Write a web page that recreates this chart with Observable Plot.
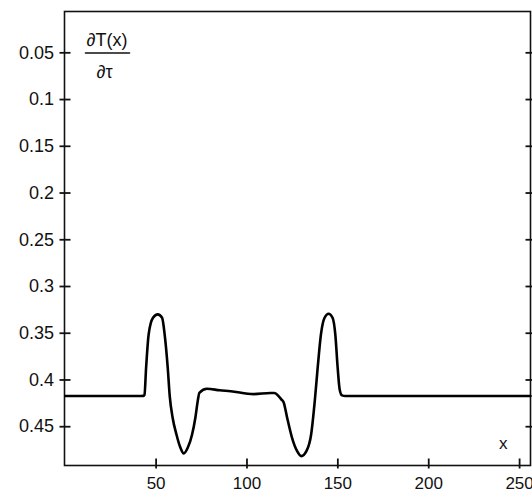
<!DOCTYPE html>
<html>
<head>
<meta charset="utf-8">
<script src="https://cdn.jsdelivr.net/npm/d3@7"></script>
<script src="https://cdn.jsdelivr.net/npm/@observablehq/plot@0.6"></script>
<style>
  html, body { margin: 0; padding: 0; background: #fff; }
  #chart { width: 532px; height: 493px; }
</style>
</head>
<body>
<div id="chart"></div>
<script>
const xValues = [0, 20, 40, 43.0, 43.6, 44.5, 45.9, 48.3, 50.9, 53.3, 54.7, 56.4, 57.5, 59.1, 61.2, 63.4, 65.2, 67.4, 69.8, 71.6, 72.9, 73.8, 78.0, 85.0, 91.0, 103.7, 112.9, 115.0, 117.5, 119.0, 120.2, 122.1, 124.8, 127.6, 129.9, 132.7, 135.3, 137.3, 138.9, 140.7, 142.7, 144.9, 147.1, 148.6, 149.9, 151.0, 152.3, 154.1, 160, 200, 256];
const yValues = [0.4172, 0.4172, 0.4172, 0.4170, 0.4160, 0.3869, 0.3512, 0.3334, 0.3298, 0.3334, 0.3512, 0.3869, 0.4172, 0.4404, 0.4583, 0.4726, 0.4786, 0.4726, 0.4583, 0.4404, 0.4226, 0.4137, 0.4094, 0.4110, 0.4120, 0.4151, 0.4140, 0.4140, 0.4175, 0.4210, 0.4240, 0.4404, 0.4619, 0.4762, 0.4815, 0.4762, 0.4583, 0.4226, 0.3869, 0.3512, 0.3334, 0.3291, 0.3334, 0.3512, 0.3869, 0.4101, 0.4165, 0.4172, 0.4172, 0.4172, 0.4172];
const xTicks = [50, 100, 150, 200, 250];
const yTicks = [0.05, 0.1, 0.15, 0.2, 0.25, 0.3, 0.35, 0.4, 0.45];
const yLabelNum = "∂T(x)";
const yLabelDen = "∂τ";
const xLabel = "x";

const xDomain = [-0.4, 256];
const yDomain = [0.0058, 0.4915];
const W = 532, H = 493, mL = 64, mR = 2, mT = 11, mB = 28;
const pxX = (xDomain[1] - xDomain[0]) / (W - mL - mR);
const pxY = (yDomain[1] - yDomain[0]) / (H - mT - mB);

const data = xValues.map((x, i) => ({x, y: yValues[i]}));
const leftTicks = yTicks.map(t => ({x1: xDomain[0] - 5 * pxX, x2: xDomain[0] + 6 * pxX, y: t}));
const rightTicks = yTicks.map(t => ({x1: xDomain[1] - 5 * pxX, x2: xDomain[1] + 3 * pxX, y: t}));
const bottomTicks = xTicks.map(t => ({x: t, y1: yDomain[1] - 7 * pxY, y2: yDomain[1] + 3 * pxY}));

const font = "'Liberation Sans', Arial, sans-serif";
const barShape = {draw(context, l) { context.moveTo(0, 0); context.lineTo(0, -l); }};
const ink = "#111";

const chart = Plot.plot({
  width: W,
  height: H,
  marginLeft: mL,
  marginRight: mR,
  marginTop: mT,
  marginBottom: mB,
  style: {fontFamily: font, fontSize: "17px", color: "#111", background: "#fff"},
  x: {domain: xDomain, label: null},
  y: {domain: yDomain, reverse: true, label: null},
  marks: [
    Plot.frame({stroke: ink, strokeWidth: 1.6}),
    Plot.axisY(yTicks, {anchor: "left", tickSize: 0, tickPadding: 10.5, tickFormat: d => String(d), label: null, fontSize: 18}),
    Plot.axisX(xTicks, {anchor: "bottom", tickSize: 0, tickPadding: 11, label: null, fontSize: 17}),
    Plot.link(leftTicks, {x1: "x1", x2: "x2", y1: "y", y2: "y", stroke: ink, strokeWidth: 1.8}),
    Plot.link(rightTicks, {x1: "x1", x2: "x2", y1: "y", y2: "y", stroke: ink, strokeWidth: 1.8}),
    Plot.link(bottomTicks, {x1: "x", x2: "x", y1: "y1", y2: "y2", stroke: ink, strokeWidth: 1.8}),
    Plot.line(data, {x: "x", y: "y", curve: "monotone-x", stroke: "#000", strokeWidth: 2.6}),
    Plot.text([yLabelNum], {frameAnchor: "top-left", dx: 42.5, dy: 22, textAnchor: "middle", fontSize: 18, fill: "#111"}),
    Plot.vector([yLabelNum], {frameAnchor: "top-left", dx: 21, dy: 41.5, length: 44, rotate: 90, anchor: "start", shape: barShape, stroke: "#111", strokeWidth: 1.6}),
    Plot.text([yLabelDen], {frameAnchor: "top-left", dx: 40, dy: 54, textAnchor: "middle", fontSize: 18, fill: "#111"}),
    Plot.text([xLabel], {frameAnchor: "bottom-right", dx: -23, dy: -17, fontSize: 17, fill: "#111"})
  ]
});
document.getElementById("chart").appendChild(chart);
</script>
</body>
</html>
